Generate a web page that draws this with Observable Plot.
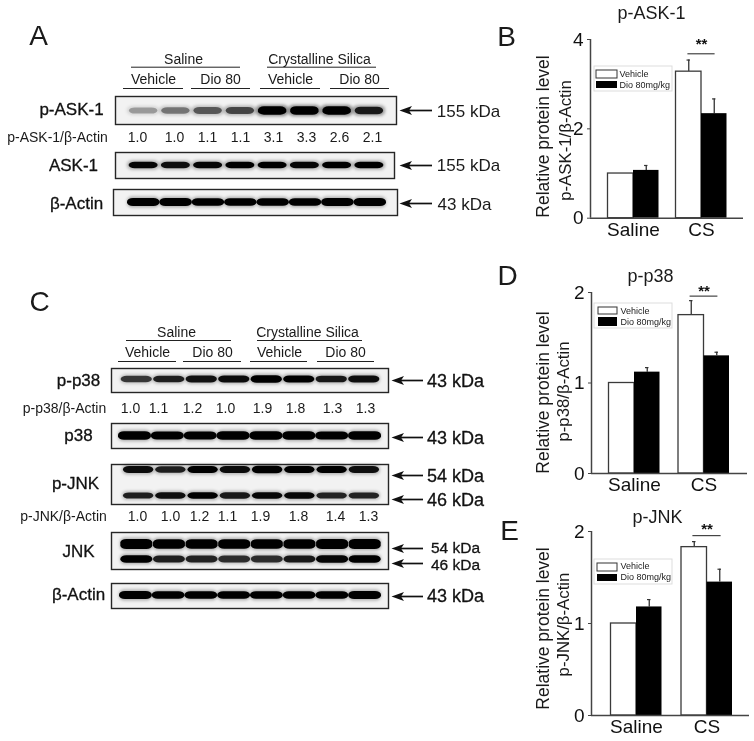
<!DOCTYPE html>
<html>
<head>
<meta charset="utf-8">
<script src="https://cdn.jsdelivr.net/npm/d3@7"></script>
<script src="https://cdn.jsdelivr.net/npm/@observablehq/plot@0.6"></script>
<style>
html,body{margin:0;padding:0;background:#fff;}
#fig{position:relative;width:754px;height:741px;overflow:hidden;filter:blur(0.35px);}
</style>
</head>
<body>
<div id="fig"></div>
<script>
const FONT = '"Liberation Sans", Arial, sans-serif';
const W = 754, H = 741;

// ---------- values ----------
const groups = ["Saline", "CS"];
const treatments = ["Vehicle", "Dio 80mg/kg"];
const pAskMeans = [1.0, 1.07, 3.28, 2.34];
const pAskTops  = [1.0, 1.18, 3.54, 2.67];
const pP38Means = [1.0, 1.12, 1.75, 1.30];
const pP38Tops  = [1.0, 1.17, 1.91, 1.34];
const pJnkMeans = [1.0, 1.18, 1.83, 1.45];
const pJnkTops  = [1.0, 1.26, 1.89, 1.59];

// ---------- band densities estimated from the blots ----------
const bandPAsk  = [0.16, 0.30, 0.42, 0.50, 0.95, 1.0, 0.95, 0.72];
const bandAsk   = [0.85, 0.8, 0.85, 0.88, 0.88, 0.85, 0.92, 0.95];
const bandActA  = [1, 1, 0.95, 0.9, 0.9, 0.95, 1, 1];
const bandPP38  = [0.6, 0.72, 0.78, 0.82, 1, 0.95, 0.75, 0.8];
const bandP38   = [1, 0.9, 0.9, 1, 1, 1, 0.9, 1];
const bandPJnk54 = [0.82, 0.72, 0.95, 0.82, 0.98, 0.95, 0.95, 0.8];
const bandPJnk46 = [0.72, 0.8, 0.92, 0.75, 0.85, 0.85, 0.7, 0.7];
const bandJnk54 = [1, 0.9, 0.9, 0.88, 0.88, 0.88, 0.95, 0.95];
const bandJnk46 = [0.95, 0.72, 0.7, 0.65, 0.65, 0.75, 0.85, 0.88];
const bandActC  = [1, 0.9, 0.9, 0.9, 0.9, 0.9, 0.9, 1];

// ---------- labels ----------
const ratioPAsk = ["1.0","1.0","1.1","1.1","3.1","3.3","2.6","2.1"];
const ratioPP38 = ["1.0","1.1","1.2","1.0","1.9","1.8","1.3","1.3"];
const ratioPJnk = ["1.0","1.0","1.2","1.1","1.9","1.8","1.4","1.3"];

// ---------- helpers ----------
const fig = document.getElementById("fig");
const svgStyle = {position:"absolute",left:"0px",top:"0px",background:"transparent",fontFamily:FONT,maxWidth:"none",overflow:"visible"};
function add(p){ fig.appendChild(p); }

function blot(cfg){
  const {l,r,t,b,start,end,rows,gap=0.05,halo=0.3} = cfg;
  const step = (end-start)/8;
  const bands = rows.flatMap(row => row.values.map((v,i)=>({lane:i,v,cy:row.y,h:row.h})));
  const thick = d => d.h*(0.7+0.35*d.v);
  const shade = d => Math.min(1,0.12+1.0*d.v);
  add(Plot.plot({
    width:W,height:H,marginLeft:l,marginRight:W-r,marginTop:t,marginBottom:H-b,
    style:svgStyle,
    x:{domain:[(l-start)/step-0.5,(r-start)/step-0.5],axis:null},
    y:{domain:[t,b],range:[t,b],axis:null},
    marks:[
      Plot.frame({fill:"#f2f2f2",stroke:"#262626",strokeWidth:1.4}),
      Plot.rect(bands,{x1:d=>d.lane-0.5,x2:d=>d.lane+0.5,y1:d=>d.cy-thick(d)/2-1.5,y2:d=>d.cy+thick(d)/2+1.5,
        fill:"#111",fillOpacity:d=>halo*shade(d),rx:6,ry:4,imageFilter:"blur(1.6px)"}),
      Plot.rect(bands,{x1:d=>d.lane-0.5+gap,x2:d=>d.lane+0.5-gap,y1:d=>d.cy-thick(d)/2,y2:d=>d.cy+thick(d)/2,
        fill:"#000",fillOpacity:shade,rx:6,ry:3.5,imageFilter:"blur(0.7px)"})
    ]
  }));
}

function barChart(cfg){
  const {means,tops,ymax,yticks,axisX,endX,yTop,yBottom,center0,step,star,starH} = cfg;
  const w = 25.5/step;
  const data = means.map((m,i)=>{
    const g = Math.floor(i/2), t = i%2;
    const x1 = g+(t-1)*w, x2 = g+t*w;
    return {x1,x2,cx:(x1+x2)/2,m,top:tops[i],t};
  });
  const errs = data.filter(d=>d.top>d.m);
  add(Plot.plot({
    width:W,height:H,marginLeft:axisX,marginRight:W-endX,marginTop:yTop,marginBottom:H-yBottom,
    style:svgStyle,
    x:{domain:[(axisX-center0)/step,(endX-center0)/step]},
    y:{domain:[0,ymax]},
    marks:[
      Plot.ruleX(errs,{x:"cx",y1:"m",y2:"top",stroke:"#333",strokeWidth:1.3}),
      Plot.ruleY(errs,{y:"top",x1:d=>d.cx-0.025,x2:d=>d.cx+0.025,stroke:"#333",strokeWidth:1.2}),
      Plot.rect(data.filter(d=>d.t===0),{x1:"x1",x2:"x2",y1:0,y2:"m",fill:"white",stroke:"#3a3a3a",strokeWidth:1.3}),
      Plot.rect(data.filter(d=>d.t===1),{x1:"x1",x2:"x2",y1:0,y2:"m",fill:"#000"}),
      Plot.ruleY([star],{x1:0.8,x2:1.2,stroke:"#333",strokeWidth:1.1}),
      Plot.text(["**"],{x:1,y:starH,text:d=>d,fontSize:15,fontWeight:"bold",fill:"#111"}),
      Plot.ruleX([(axisX-center0)/step],{stroke:"#444",strokeWidth:1.5}),
      Plot.ruleY([0],{stroke:"#444",strokeWidth:1.5}),
      Plot.axisY({ticks:yticks,tickSize:3,tickPadding:4,fontSize:19,label:null,stroke:"#444",tickFormat:d=>d,fill:"#111"}),
      Plot.axisX({ticks:[0,1],tickFormat:d=>groups[d],tickSize:0,tickPadding:4,fontSize:19,label:null,fill:"#111"})
    ]
  }));
}

// ---------- blots, panel A ----------
blot({l:115,r:396,t:96,b:124,start:127,end:385,rows:[{y:110.5,h:8,values:bandPAsk}],gap:0.06,halo:0.45});
blot({l:115,r:394,t:152,b:178,start:127,end:385,rows:[{y:165,h:6.5,values:bandAsk}],gap:0.05});
blot({l:113,r:397,t:189,b:215,start:127,end:386,rows:[{y:202,h:7.5,values:bandActA}],gap:0});

// ---------- blots, panel C ----------
blot({l:111,r:388,t:368,b:392,start:120,end:380,rows:[{y:379,h:7,values:bandPP38}],gap:0.02});
blot({l:111,r:388,t:423,b:448,start:118,end:381,rows:[{y:435.5,h:8,values:bandP38}],gap:0});
blot({l:111,r:388,t:464,b:504,start:122,end:380,rows:[{y:469.5,h:7,values:bandPJnk54},{y:495.5,h:6.5,values:bandPJnk46}],gap:0.03});
blot({l:111,r:388,t:532,b:569,start:120,end:381,rows:[{y:544,h:9.5,values:bandJnk54},{y:559,h:7.5,values:bandJnk46}],gap:0.01});
blot({l:111,r:388,t:583,b:608,start:119,end:381,rows:[{y:595,h:7.5,values:bandActC}],gap:0});

// ---------- bar charts ----------
barChart({means:pAskMeans,tops:pAskTops,ymax:4,yticks:[0,2,4],axisX:590,endX:743,yTop:39,yBottom:217.7,center0:633,step:68,star:3.68,starH:3.9});
barChart({means:pP38Means,tops:pP38Tops,ymax:2,yticks:[0,1,2],axisX:591,endX:747,yTop:292,yBottom:473,center0:634,step:69.5,star:1.96,starH:2.02});
barChart({means:pJnkMeans,tops:pJnkTops,ymax:2,yticks:[0,1,2],axisX:591,endX:749,yTop:531,yBottom:715,center0:636,step:70.5,star:1.955,starH:2.02});

// ---------- annotation layer, in figure coordinates ----------
const T = (text,x,y,size=14,bold=0) => ({text,x,y,size,bold});
const row = (labels,xs,y,size=14) => labels.map((t,i)=>T(t,xs[i],y,size));
const plainText = [
  T("A",38,36,28),T("B",506,37,28),T("C",39,302,28),T("D",507,276,28),T("E",509,531,28),
  T("Saline",183,59),T("Crystalline Silica",319,59),
  T("Vehicle",153,79),T("Dio 80",220,79),T("Vehicle",290,79),T("Dio 80",359,79),
  T("p-ASK-1/β-Actin",57,137),
  ...row(ratioPAsk,[137,174,207,240,273,306,339,372],137),
  T("155 kDa",468,111,17),T("155 kDa",468,165,17),T("43 kDa",464,204,17),
  T("Saline",176,332),T("Crystalline Silica",307,332),
  T("Vehicle",147,352),T("Dio 80",212,352),T("Vehicle",279,352),T("Dio 80",345,352),
  T("p-p38/β-Actin",64,408),
  ...row(ratioPP38,[130,158,192,225,262,295,332,365],408),
  T("p-JNK/β-Actin",63,516),
  ...row(ratioPJnk,[137,170,199,227,260,298,335,368],516),
  T("p-ASK-1",651,13,18),T("p-p38",650,276,18),T("p-JNK",657,517,18)
];
const strongText = [
  T("p-ASK-1",71,109,17),T("ASK-1",73,165,17),T("β-Actin",76,203,17),
  T("p-p38",78,380,17),T("p38",78,435,17),T("p-JNK",75,483,17),T("JNK",78,551,17),T("β-Actin",78,594,17),
  T("43 kDa",455,381,18),T("43 kDa",455,438,18),T("54 kDa",455,476,18),T("46 kDa",455,500,18),
  T("54 kDa",455,547.5,15.5),T("46 kDa",455,565,15.5),T("43 kDa",455,596,18)
];
const rotated = [
  T("Relative protein level",543,136,17.5),T("p-ASK-1/β-Actin",565,140,16.8),
  T("Relative protein level",543,392,17.5),T("p-p38/β-Actin",563,391,16.8),
  T("Relative protein level",543,628,17.5),T("p-JNK/β-Actin",563,624,16.8)
];
const headingRules = [
  [131,240,66.7],[267,376,66.7],[123,183,88],[191,250,88],[260,320,88],[330,389,88],
  [126,231,340],[257,362,340],[118,176,361],[183,241,361],[250,307,361],[317,374,361]
].map(([x1,x2,y])=>({x1,x2,y}));
const arrowsA = [110,165,203].map(y=>({tip:399,end:432,y}));
const arrowsC = [380,437,475,499,548,563,596].map(y=>({tip:391,end:423,y}));
const arrows = [...arrowsA,...arrowsC];
const wedge = {draw(c){c.moveTo(-6.5,0);c.lineTo(6,-4.5);c.lineTo(3,0);c.lineTo(6,4.5);c.closePath();}};
const legends = [
  {box:[594,672,66,91],v:[596,617,70,78],d:[596,617,81,88],tx:619,ty:[74,85]},
  {box:[594,672,303,328],v:[598,617,307,314],d:[598,617,317,326],tx:620,ty:[311,322]},
  {box:[594,672,559,584],v:[597,617,563,571],d:[597,617,574,581],tx:620,ty:[566,577]}
];
const rectOf = a => ({x1:a[0],x2:a[1],y1:a[2],y2:a[3]});
const legendText = legends.flatMap(l=>treatments.map((t,i)=>({text:t,x:l.tx,y:l.ty[i]})));

add(Plot.plot({
  width:W,height:H,margin:0,style:svgStyle,
  x:{domain:[0,W],range:[0,W],axis:null},
  y:{domain:[0,H],range:[0,H],axis:null},
  marks:[
    Plot.ruleY(headingRules,{x1:"x1",x2:"x2",y:"y",stroke:"#222",strokeWidth:1}),
    Plot.ruleY(arrows,{x1:d=>d.tip+6,x2:"end",y:"y",stroke:"#111",strokeWidth:1.7}),
    Plot.dot(arrows,{x:d=>d.tip+6.5,y:"y",symbol:wedge,r:4,fill:"#111",stroke:"none"}),
    Plot.text(plainText,{x:"x",y:"y",text:"text",fontSize:"size",fill:"#1a1a1a"}),
    Plot.text(strongText,{x:"x",y:"y",text:"text",fontSize:"size",fill:"#111",stroke:"#111",strokeWidth:0.3}),
    Plot.text(rotated,{x:"x",y:"y",text:"text",fontSize:"size",rotate:-90,fill:"#1a1a1a"}),
    Plot.rect(legends.map(l=>rectOf(l.box)),{x1:"x1",x2:"x2",y1:"y1",y2:"y2",fill:"white",stroke:"#ddd",strokeWidth:1}),
    Plot.rect(legends.map(l=>rectOf(l.v)),{x1:"x1",x2:"x2",y1:"y1",y2:"y2",fill:"white",stroke:"#333",strokeWidth:1}),
    Plot.rect(legends.map(l=>rectOf(l.d)),{x1:"x1",x2:"x2",y1:"y1",y2:"y2",fill:"#000"}),
    Plot.text(legendText,{x:"x",y:"y",text:"text",fontSize:9,textAnchor:"start",fill:"#222"})
  ]
}));
</script>
</body>
</html>
